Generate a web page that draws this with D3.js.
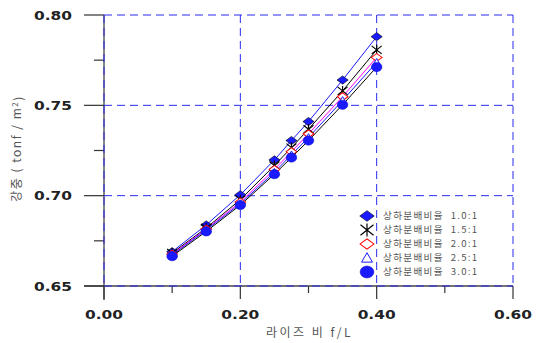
<!DOCTYPE html>
<html>
<head>
<meta charset="utf-8">
<script src="https://cdn.jsdelivr.net/npm/d3@7"></script>
<style>
  body { margin: 0; background: #fff; }
  .tick-label { font-family: "DejaVu Sans", sans-serif; font-weight: bold; font-size: 12.5px; fill: #222; }
  .axis-title { font-family: "Noto Sans CJK KR", sans-serif; font-size: 12px; fill: #555; }
  .legend-text { font-family: "Noto Sans CJK KR", sans-serif; font-size: 9.6px; fill: #555; letter-spacing: 1.3px; white-space: pre; }
</style>
</head>
<body>
<div id="chart"></div>
<script>
// rise ratio f/L
var riseRatio = [0.10, 0.15, 0.20, 0.25, 0.275, 0.30, 0.35, 0.40];

var seriesNames = ["상하분배비율  1.0:1", "상하분배비율  1.5:1", "상하분배비율  2.0:1", "상하분배비율  2.5:1", "상하분배비율  3.0:1"];

// steel weight (tonf/m2) per distribution ratio
var ratio10 = [0.6690, 0.6838, 0.7005, 0.7198, 0.7305, 0.7410, 0.7640, 0.7880];
var ratio15 = [0.6683, 0.6821, 0.6978, 0.7167, 0.7266, 0.7368, 0.7580, 0.7807];
var ratio20 = [0.6677, 0.6815, 0.6965, 0.7145, 0.7243, 0.7342, 0.7548, 0.7765];
var ratio25 = [0.6672, 0.6810, 0.6956, 0.7130, 0.7226, 0.7322, 0.7527, 0.7738];
var ratio30 = [0.6665, 0.6802, 0.6948, 0.7119, 0.7211, 0.7305, 0.7503, 0.7712];

var xTicks = [0, 0.2, 0.4, 0.6];
var xMinor = [0.1, 0.3, 0.5];
var yTicks = [0.65, 0.70, 0.75, 0.80];
var yMinor = [0.675, 0.725, 0.775];

var W = 544, H = 343;
var margin = {top: 15, right: 31, bottom: 57, left: 104};

var svg = d3.select("#chart").append("svg")
    .attr("width", W).attr("height", H);

var x = d3.scaleLinear().domain([0, 0.6]).range([margin.left, W - margin.right]);
var y = d3.scaleLinear().domain([0.65, 0.80]).range([H - margin.bottom, margin.top]);

var gridColor = "#2a2aee";

// axis lines (dark) under the dashed grid
svg.append("line").attr("x1", x(0)).attr("x2", x(0)).attr("y1", y(0.80)).attr("y2", y(0.65) + 14)
    .attr("stroke", "#444").attr("stroke-width", 1.3);
svg.append("line").attr("x1", x(0) - 20).attr("x2", x(0.6)).attr("y1", y(0.65)).attr("y2", y(0.65))
    .attr("stroke", "#444").attr("stroke-width", 1.3);

// major / minor ticks
svg.selectAll(".ytick").data(yTicks).enter().append("line")
    .attr("x1", x(0) - 20).attr("x2", x(0))
    .attr("y1", function(d){ return y(d); }).attr("y2", function(d){ return y(d); })
    .attr("stroke", "#333").attr("stroke-width", 1.2);
svg.selectAll(".yminor").data(yMinor).enter().append("line")
    .attr("x1", x(0) - 10).attr("x2", x(0))
    .attr("y1", function(d){ return y(d); }).attr("y2", function(d){ return y(d); })
    .attr("stroke", "#333").attr("stroke-width", 1.2);
svg.selectAll(".xtick").data(xTicks).enter().append("line")
    .attr("x1", function(d){ return x(d); }).attr("x2", function(d){ return x(d); })
    .attr("y1", y(0.65)).attr("y2", y(0.65) + 13)
    .attr("stroke", "#333").attr("stroke-width", 1.2);
svg.selectAll(".xminor").data(xMinor).enter().append("line")
    .attr("x1", function(d){ return x(d); }).attr("x2", function(d){ return x(d); })
    .attr("y1", y(0.65)).attr("y2", y(0.65) + 7)
    .attr("stroke", "#333").attr("stroke-width", 1.2);

// dashed grid
svg.selectAll(".gx").data(xTicks).enter().append("line")
    .attr("x1", function(d){ return x(d); }).attr("x2", function(d){ return x(d); })
    .attr("y1", y(0.80)).attr("y2", y(0.65))
    .attr("stroke", gridColor).attr("stroke-width", 1).attr("stroke-dasharray", "8,5");
svg.selectAll(".gy").data(yTicks).enter().append("line")
    .attr("x1", x(0)).attr("x2", x(0.6))
    .attr("y1", function(d){ return y(d); }).attr("y2", function(d){ return y(d); })
    .attr("stroke", gridColor).attr("stroke-width", 1).attr("stroke-dasharray", "8,5");

// tick labels (wide, stretched digits like the original)
svg.selectAll(".ylab").data(yTicks).enter().append("text")
    .attr("class", "tick-label")
    .attr("x", x(0) - 32).attr("y", function(d){ return y(d); })
    .attr("dy", "0.36em").attr("text-anchor", "end")
    .attr("textLength", 38).attr("lengthAdjust", "spacingAndGlyphs")
    .text(d3.format(".2f"));
svg.selectAll(".xlab").data(xTicks).enter().append("text")
    .attr("class", "tick-label")
    .attr("x", function(d){ return x(d); }).attr("y", y(0.65) + 28)
    .attr("dy", "0.36em").attr("text-anchor", "middle")
    .attr("textLength", 38).attr("lengthAdjust", "spacingAndGlyphs")
    .text(d3.format(".2f"));

// axis titles
svg.append("text").attr("class", "axis-title")
    .attr("x", x(0.3) + 1).attr("y", 333).attr("dy", "0.35em")
    .attr("text-anchor", "middle").style("letter-spacing", "2.5px")
    .text("라이즈 비 f/L");
var yt = svg.append("text").attr("class", "axis-title")
    .attr("transform", "translate(17," + (y(0.725) - 2) + ") rotate(-90)")
    .attr("text-anchor", "middle").attr("dy", "0.35em")
    .style("letter-spacing", "1.5px");
yt.append("tspan").text("강중 ( tonf / m");
yt.append("tspan").attr("dy", "-0.4em").style("font-size", "8px").text("2");
yt.append("tspan").attr("dy", "0.4em").text(")");

// series
var series = [
  {name: seriesNames[0], values: ratio10, line: "#1a1aff", marker: "diamondFill"},
  {name: seriesNames[1], values: ratio15, line: "#000000", marker: "star"},
  {name: seriesNames[2], values: ratio20, line: "#ff00ff", marker: "diamondOpen"},
  {name: seriesNames[3], values: ratio25, line: "#1a1aff", marker: "triangle"},
  {name: seriesNames[4], values: ratio30, line: "#000000", marker: "circle"}
];

var lineGen = d3.line()
    .x(function(d, i){ return x(riseRatio[i]); })
    .y(function(d){ return y(d); });

series.forEach(function(s){
  svg.append("path").datum(s.values)
    .attr("d", lineGen).attr("fill", "none")
    .attr("stroke", s.line).attr("stroke-width", 1);
});

function drawMarker(g, type, cx, cy, scale) {
  var k = scale || 1;
  if (type === "diamondFill") {
    g.append("path").attr("d", d3.symbol().type(d3.symbolDiamond2).size(60 * k * k)())
      .attr("transform", "translate(" + cx + "," + cy + ") scale(1.15,0.85)")
      .attr("fill", "#1a1aff").attr("stroke", "#000").attr("stroke-width", 0.6);
  } else if (type === "diamondOpen") {
    g.append("path").attr("d", d3.symbol().type(d3.symbolDiamond2).size(55 * k * k)())
      .attr("transform", "translate(" + cx + "," + cy + ") scale(1.15,0.85)")
      .attr("fill", "#fff").attr("stroke", "#ff0000").attr("stroke-width", 1);
  } else if (type === "star") {
    var r = 5 * k;
    var p = "M" + (-r) + "," + (-r * 0.8) + "L" + r + "," + (r * 0.8) +
            "M" + (-r) + "," + (r * 0.8) + "L" + r + "," + (-r * 0.8) +
            "M0," + (-r) + "L0," + r;
    g.append("path").attr("d", p).attr("transform", "translate(" + cx + "," + cy + ")")
      .attr("stroke", "#000").attr("stroke-width", 1.2).attr("fill", "none");
  } else if (type === "triangle") {
    g.append("path").attr("d", d3.symbol().type(d3.symbolTriangle2).size(50 * k * k)())
      .attr("transform", "translate(" + cx + "," + (cy + 1) + ")")
      .attr("fill", "#fff").attr("stroke", "#1a1aff").attr("stroke-width", 1);
  } else {
    g.append("ellipse").attr("cx", cx).attr("cy", cy)
      .attr("rx", 5.3 * k).attr("ry", 4.6 * k)
      .attr("fill", "#1a1aff").attr("stroke", "#0000cc").attr("stroke-width", 0.5);
  }
}

series.forEach(function(s){
  var g = svg.append("g");
  s.values.forEach(function(v, i){
    drawMarker(g, s.marker, x(riseRatio[i]), y(v), 1);
  });
});

// legend
var legY = [216, 230, 244, 258, 272];
var legend = svg.append("g");
series.forEach(function(s, i){
  drawMarker(legend, s.marker, 367, legY[i], 1.3);
  legend.append("text").attr("class", "legend-text")
    .attr("x", 383).attr("y", legY[i]).attr("dy", "0.35em")
    .text(s.name);
});
</script>
</body>
</html>
